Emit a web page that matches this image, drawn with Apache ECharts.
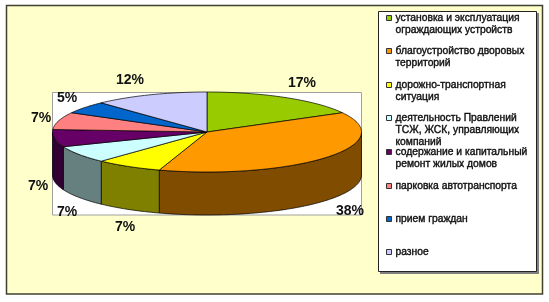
<!DOCTYPE html>
<html><head><meta charset="utf-8">
<style>html,body{margin:0;padding:0;background:#fff}#c{width:549px;height:302px}</style>
<script src="https://cdn.jsdelivr.net/npm/echarts@6/dist/echarts.min.js"></script>
</head><body><div id="c"></div>
<script>
const categories = [
  'установка и эксплуатация\nограждающих устройств',
  'благоустройство дворовых\nтерриторий',
  'дорожно-транспортная\nситуация',
  'деятельность Правлений\nТСЖ, ЖСК, управляющих\nкомпаний',
  'содержание и капитальный\nремонт жилых домов',
  'парковка автотранспорта',
  'прием граждан',
  'разное'
];
const values = [17, 38, 7, 7, 7, 7, 5, 12];
const colors = ['#99CC00','#FF9900','#FFFF00','#CCFFFF','#660066','#FF8080','#0066CC','#CCCCFF'];
const wallColors = ['#4D6600','#7F4C00','#808000','#668080','#330033','#804040','#003366','#666680'];
const labelSpots = [[302,83],[350,211],[125,227],[67,212],[38,186],[41,118],[67,98],[130,80]];

const PIE = {cx:207, cy:132, rx:154.5, ry:40, depth:43};
const total = values.reduce((a,b)=>a+b,0);
const starts = values.map((_,i)=>values.slice(0,i).reduce((a,b)=>a+b,0)/total*360);
const pt = (deg,dy=0)=>{const r=deg*Math.PI/180;return [PIE.cx+PIE.rx*Math.sin(r),PIE.cy-PIE.ry*Math.cos(r)+dy];};
const arc = (a,b,dy=0)=>{const n=Math.max(2,Math.ceil((b-a)/1.5)),o=[];for(let k=0;k<=n;k++)o.push(pt(a+(b-a)*k/n,dy));return o;};
const edge = {stroke:'#000',lineWidth:0.7};

function slice(i){
  return function(params,api){
    const v=api.value(0), a=starts[i], b=a+v/total*360, kids=[];
    const wa=Math.max(a,90), wb=Math.min(b,270);
    if(wb>wa){
      const top=arc(wa,wb), bot=arc(wa,wb,PIE.depth).reverse();
      kids.push({type:'polygon',shape:{points:top.concat(bot)},style:{fill:wallColors[i],...edge}});
    }
    kids.push({type:'polygon',shape:{points:[[PIE.cx,PIE.cy]].concat(arc(a,b))},style:{fill:colors[i],...edge}});
    kids.push({type:'text',z2:10,style:{text:v+'%',x:labelSpots[i][0],y:labelSpots[i][1],align:'center',verticalAlign:'middle',
      font:'bold 14px "Liberation Sans", Arial, sans-serif',fill:'#111'}});
    return {type:'group',children:kids};
  };
}

const legendRowY=[18,51,85,118,152,186,219,252];
const legends=categories.map((name,i)=>{
  const n=name.split('\n').length;
  return {data:[name],left:386,top:legendRowY[i]-(2*n-1)*6,padding:0,itemWidth:5,itemHeight:5,itemGap:0,
    icon:'rect',selectedMode:false,
    itemStyle:{borderColor:'#333',borderWidth:1},
    textStyle:{color:'#111',fontFamily:'"Liberation Sans", Arial, sans-serif',fontSize:10.3,lineHeight:12,
      padding:[0,0,0,-1],textBorderColor:'#111',textBorderWidth:0.4},
    formatter:t=>'\n'.repeat(n-1)+t};
});

const chart=echarts.init(document.getElementById('c'),null,{renderer:'canvas'});
chart.setOption({
  animation:false,
  backgroundColor:'#fff',
  legend:legends,
  graphic:{elements:[
    {type:'rect',z:-10,shape:{x:6.5,y:5.5,width:536,height:288.5},style:{fill:'#FFFFCC',stroke:'#404030',lineWidth:1.5}},
    {type:'rect',z:-9,shape:{x:52.5,y:92.5,width:309,height:122.5},style:{fill:'#fff',stroke:'#a0a0a0',lineWidth:1}},
    {type:'rect',z:-9,shape:{x:380,y:13,width:159,height:261},style:{fill:'#808080'}},
    {type:'rect',z:-8,shape:{x:378.5,y:11.5,width:158,height:260},style:{fill:'#fff',stroke:'#222',lineWidth:1}}
  ]},
  series:categories.map((name,i)=>({
    type:'custom',name,coordinateSystem:'none',silent:true,
    itemStyle:{color:colors[i]},
    data:[[values[i]]],
    renderItem:slice(i)
  }))
});
</script></body></html>
